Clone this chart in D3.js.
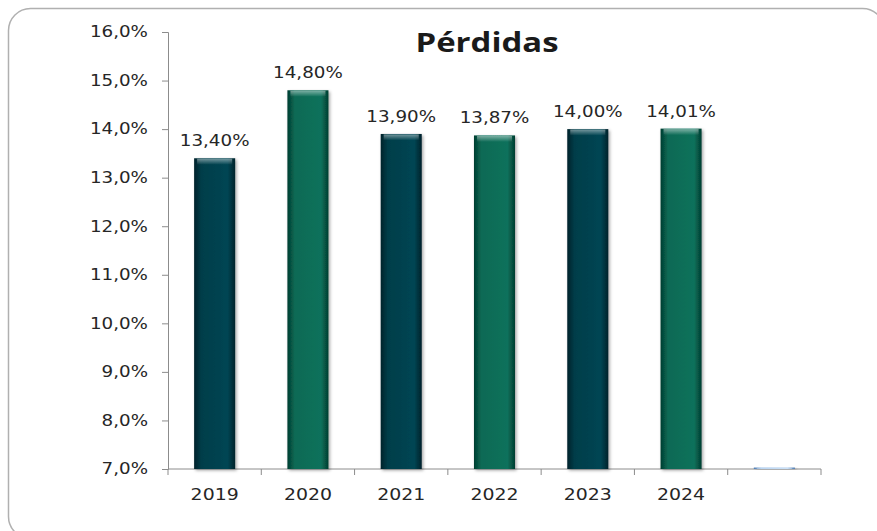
<!DOCTYPE html>
<html>
<head>
<meta charset="utf-8">
<script src="https://cdn.jsdelivr.net/npm/d3@7"></script>
<style>
  body { margin: 0; background: #fff; }
  svg { display: block; }
</style>
</head>
<body>
<div id="chart"></div>
<script>
  let years = ["2019", "2020", "2021", "2022", "2023", "2024", ""];
  let values = [13.40, 14.80, 13.90, 13.87, 14.00, 14.01, 7.03];
  let valueLabels = ["13,40%", "14,80%", "13,90%", "13,87%", "14,00%", "14,01%", ""];
  let yTicks = [7, 8, 9, 10, 11, 12, 13, 14, 15, 16];
  let title = "Pérdidas";

  let width = 877, height = 531;
  let margin = { top: 32, right: 56, bottom: 62, left: 168 };
  let stretch = 1.22; // the text in the picture is a bit wide

  let svg = d3.select("#chart").append("svg")
    .attr("width", width)
    .attr("height", height);

  let defs = svg.append("defs");

  // gradients for the bar faces
  let palettes = {
    dark: ["#01222a", "#053e4a", "#064553", "#01222a"],
    green: ["#033d30", "#0a6a55", "#0c715b", "#033d30"],
    blue: ["#4b79b0", "#9dc3ec", "#b4d3f3", "#4b79b0"]
  };
  Object.keys(palettes).forEach(function (k) {
    let c = palettes[k];
    let g = defs.append("linearGradient").attr("id", "face-" + k)
      .attr("x1", 0).attr("x2", 1).attr("y1", 0).attr("y2", 0);
    g.append("stop").attr("offset", "0%").attr("stop-color", c[0]);
    g.append("stop").attr("offset", "18%").attr("stop-color", c[1]);
    g.append("stop").attr("offset", "82%").attr("stop-color", c[2]);
    g.append("stop").attr("offset", "100%").attr("stop-color", c[3]);
  });
  let hl = defs.append("linearGradient").attr("id", "bevel")
    .attr("x1", 0).attr("x2", 0).attr("y1", 0).attr("y2", 1);
  hl.append("stop").attr("offset", "0%").attr("stop-color", "#fff").attr("stop-opacity", 0.45);
  hl.append("stop").attr("offset", "100%").attr("stop-color", "#fff").attr("stop-opacity", 0);

  let shadow = defs.append("filter").attr("id", "shadow")
    .attr("x", "-20%").attr("y", "-5%").attr("width", "140%").attr("height", "115%");
  shadow.append("feDropShadow")
    .attr("dx", 1.5).attr("dy", 1.5).attr("stdDeviation", 1.5)
    .attr("flood-color", "#000").attr("flood-opacity", 0.35);

  // outer frame, runs off the right and bottom edge
  svg.append("rect")
    .attr("x", 8.5).attr("y", 8.5)
    .attr("width", 876).attr("height", 530)
    .attr("rx", 22)
    .attr("fill", "none")
    .attr("stroke", "#b0b0b0")
    .attr("stroke-width", 1.5);

  let x = d3.scaleBand()
    .domain(d3.range(years.length))
    .range([margin.left, width - margin.right])
    .paddingInner(0.56)
    .paddingOuter(0.28);

  let y = d3.scaleLinear()
    .domain([7, 16])
    .range([height - margin.bottom, margin.top]);

  let fmt = d => d.toFixed(1).replace(".", ",") + "%";

  // y axis
  let yAxis = svg.append("g")
    .attr("transform", "translate(" + margin.left + ",0)")
    .call(d3.axisLeft(y).tickValues(yTicks).tickFormat(fmt).tickSize(6).tickPadding(14));
  yAxis.select(".domain").attr("stroke", "#8c8c8c");
  yAxis.selectAll(".tick line").attr("stroke", "#8c8c8c");
  yAxis.selectAll(".tick text")
    .attr("font-family", "DejaVu Sans")
    .attr("font-size", 15)
    .attr("fill", "#262626")
    .attr("transform", function () {
      let tx = +d3.select(this).attr("x");
      return "translate(" + (tx - tx * stretch) + ",0) scale(" + stretch + ",1)";
    });

  // x axis, ticks on category boundaries
  let step = x.step();
  let xBase = svg.append("g")
    .attr("transform", "translate(0," + y(7) + ")");
  xBase.append("line")
    .attr("x1", margin.left).attr("x2", width - margin.right)
    .attr("stroke", "#8c8c8c");
  xBase.selectAll(".xtick")
    .data(d3.range(years.length + 1))
    .join("line")
    .attr("class", "xtick")
    .attr("x1", i => margin.left + i * step)
    .attr("x2", i => margin.left + i * step)
    .attr("y1", 0).attr("y2", 6)
    .attr("stroke", "#8c8c8c");
  xBase.selectAll(".xlabel")
    .data(years)
    .join("text")
    .attr("class", "xlabel")
    .attr("transform", (d, i) => "translate(" + (x(i) + x.bandwidth() / 2) + ",31) scale(" + stretch + ",1)")
    .attr("text-anchor", "middle")
    .attr("font-family", "DejaVu Sans")
    .attr("font-size", 15.5)
    .attr("fill", "#262626")
    .text(d => d);

  // bars
  let kind = i => i === 6 ? "blue" : (i % 2 === 0 ? "dark" : "green");
  let bars = svg.append("g").selectAll("g.bar")
    .data(values)
    .join("g")
    .attr("class", "bar");
  bars.append("rect")
    .attr("x", (d, i) => x(i))
    .attr("y", d => y(d))
    .attr("width", x.bandwidth())
    .attr("height", d => y(7) - y(d))
    .attr("fill", (d, i) => "url(#face-" + kind(i) + ")")
    .attr("filter", "url(#shadow)");
  bars.append("rect")
    .attr("x", (d, i) => x(i) + 3)
    .attr("y", d => y(d) + 0.5)
    .attr("width", x.bandwidth() - 6)
    .attr("height", d => Math.min(6, y(7) - y(d)))
    .attr("fill", "url(#bevel)");

  // value labels
  svg.append("g").selectAll("text")
    .data(values)
    .join("text")
    .attr("transform", (d, i) => "translate(" + (x(i) + x.bandwidth() / 2) + "," + (y(d) - 12) + ") scale(" + stretch + ",1)")
    .attr("text-anchor", "middle")
    .attr("font-family", "DejaVu Sans")
    .attr("font-size", 15)
    .attr("fill", "#262626")
    .text((d, i) => valueLabels[i]);

  // title
  svg.append("text")
    .attr("transform", "translate(487,52) scale(" + stretch + ",1)")
    .attr("text-anchor", "middle")
    .attr("font-family", "Open Sans")
    .attr("font-weight", "bold")
    .attr("font-size", 27)
    .attr("fill", "#1a1a1a")
    .text(title);
</script>
</body>
</html>
